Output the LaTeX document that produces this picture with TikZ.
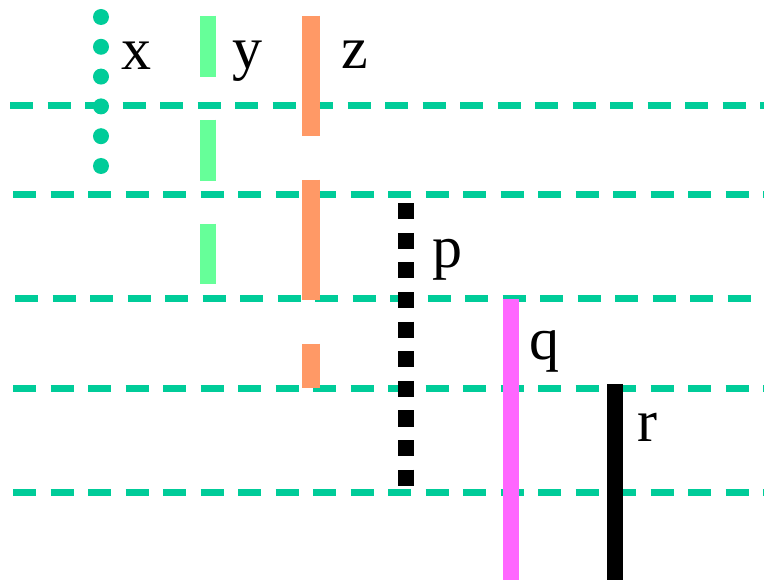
\documentclass[tikz,border=0pt]{standalone}
\usepackage{fontspec}
\setmainfont{Liberation Serif}
\definecolor{hgreen}{HTML}{00CC99}
\definecolor{lgreen}{HTML}{66FF99}
\definecolor{orng}{HTML}{FF9966}
\definecolor{mgnt}{HTML}{FF66FF}
\tikzset{
  hline/.style={draw=hgreen, line width=7pt, dash pattern=on 23pt off 14.5pt},
  lbl/.style={anchor=base, inner sep=0pt, font=\fontsize{60}{60}\selectfont},
}
\begin{document}
\begin{tikzpicture}[x=1pt,y=-1pt]
\useasboundingbox (0,0) rectangle (764,580);
% horizontal dashed lines
\coordinate (h1a) at (10,106);  \coordinate (h1b) at (790,106);
\coordinate (h2a) at (13,194.5);\coordinate (h2b) at (790,194.5);
\coordinate (h3a) at (15,299);  \coordinate (h3b) at (790,299);
\coordinate (h4a) at (13,389);  \coordinate (h4b) at (790,389);
\coordinate (h5a) at (13,492);  \coordinate (h5b) at (790,492);
\foreach \i in {1,...,5}{\draw[hline] (h\i a) -- (h\i b);}
% vertical lines
\coordinate (xa) at (101,17);   \coordinate (xb) at (101,170);
\draw[hgreen, line width=16pt, line cap=round, dash pattern=on 0pt off 29.8pt] (xa) -- (xb);
\coordinate (ya) at (207.5,15.7); \coordinate (yb) at (207.5,284.5);
\draw[lgreen, line width=16pt, dash pattern=on 61pt off 43pt] (ya) -- (yb);
\coordinate (za) at (311,15.7); \coordinate (zb) at (311,388);
\draw[orng, line width=18pt, dash pattern=on 120pt off 44pt] (za) -- (zb);
\coordinate (pa) at (406,203.3); \coordinate (pb) at (406,487);
\draw[black, line width=16pt, dash pattern=on 16pt off 13.6pt] (pa) -- (pb);
\coordinate (qa) at (511,299); \coordinate (qb) at (511,585);
\draw[mgnt, line width=16pt] (qa) -- (qb);
\coordinate (ra) at (615,384); \coordinate (rb) at (615,585);
\draw[black, line width=16pt] (ra) -- (rb);
% labels
\node[lbl] (lx) at (136,70) {x};
\node[lbl] (ly) at (247,69) {y};
\node[lbl] (lz) at (355,69) {z};
\node[lbl] (lp) at (447,268) {p};
\node[lbl] (lq) at (544,360) {q};
\node[lbl] (lr) at (647,442) {r};
\end{tikzpicture}
\end{document}
